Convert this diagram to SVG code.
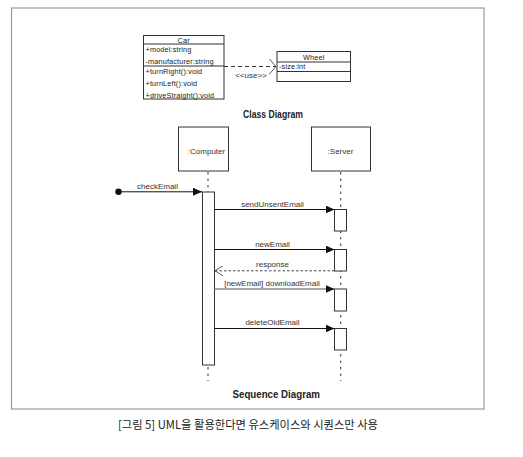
<svg xmlns="http://www.w3.org/2000/svg" width="523" height="457" viewBox="0 0 523 457">
<style>
.frame{fill:none;stroke:#9a9a9a;stroke-width:1.2}
.box{fill:#fff;stroke:#333;stroke-width:1}
.cls{font-family:"Liberation Sans",Arial,sans-serif;font-size:7.3px;letter-spacing:0.15px;fill:#222}
.lbl{font-family:"Liberation Sans",Arial,sans-serif;font-size:8px;fill:#333}
.title{font-family:"Liberation Sans",Arial,sans-serif;font-size:10px;font-weight:bold;fill:#222}
.msg{stroke:#111;stroke-width:1;fill:none}
.life{stroke:#555;stroke-width:1.2;stroke-dasharray:2.5 4;fill:none}
.act{fill:#fff;stroke:#333;stroke-width:1}
.cap{font-family:"Noto Sans CJK KR","Noto Sans",sans-serif;font-size:11.5px;fill:#222}
</style>
<defs>
<marker id="fill" markerWidth="10" markerHeight="8" refX="9" refY="4" orient="auto" markerUnits="userSpaceOnUse">
<path d="M0,0 L9,4 L0,8 Z" fill="#111"/>
</marker>
<marker id="open" markerWidth="10" markerHeight="10" refX="8" refY="5" orient="auto" markerUnits="userSpaceOnUse">
<path d="M0,0 L8,5 L0,10" fill="none" stroke="#333" stroke-width="0.8"/>
</marker>
<marker id="open2" markerWidth="10" markerHeight="16" refX="7" refY="8" orient="auto" markerUnits="userSpaceOnUse">
<path d="M0,0 L7,8 L0,16" fill="none" stroke="#333" stroke-width="0.8"/>
</marker>
</defs>
<rect class="frame" x="11.5" y="8" width="472.5" height="401" fill="#fff"/>

<g id="car">
<rect class="box" x="143.5" y="35.5" width="80.5" height="63.5"/>
<line class="box" x1="143.5" y1="44" x2="224" y2="44"/>
<line class="box" x1="143.5" y1="66" x2="224" y2="66"/>
<text class="cls" x="183.7" y="42.5" text-anchor="middle">Car</text>
<text class="cls" x="145.5" y="52">+model:string</text>
<text class="cls" x="145.5" y="63.5">-manufacturer:string</text>
<text class="cls" x="145.5" y="74">+turnRight():void</text>
<text class="cls" x="145.5" y="85.5">+turnLeft():void</text>
<text class="cls" x="145.5" y="97.5">+driveStraight():void</text>
</g>

<g id="wheel">
<rect class="box" x="277" y="51.5" width="73.5" height="30"/>
<line class="box" x1="277" y1="62" x2="350.5" y2="62"/>
<line class="box" x1="277" y1="71.5" x2="350.5" y2="71.5"/>
<text class="cls" x="313.7" y="59.5" text-anchor="middle">Wheel</text>
<text class="cls" x="279" y="69">-size:int</text>
</g>

<text class="title" x="243" y="117.5" textLength="60" lengthAdjust="spacingAndGlyphs">Class Diagram</text>

<g id="computer">
<rect class="box" x="178.5" y="127" width="50" height="44"/>
<text class="lbl" x="206.5" y="153.5" text-anchor="middle" font-size="8.5">:Computer</text>
</g>
<g id="server">
<rect class="box" x="311.5" y="127" width="59" height="44"/>
<text class="lbl" x="340.5" y="153.5" text-anchor="middle" font-size="8.5">:Server</text>
</g>

<g id="connectors">
<line x1="224" y1="66.5" x2="276" y2="66.5" stroke="#333" stroke-width="1" stroke-dasharray="4 3" marker-end="url(#open2)"/>
<text class="lbl" x="251" y="77.5" text-anchor="middle" font-size="6.5">&lt;&lt;use&gt;&gt;</text>

<line class="life" x1="208" y1="172" x2="208" y2="381"/>
<line class="life" x1="340.7" y1="172" x2="340.7" y2="381"/>

<rect class="act" x="202.5" y="192" width="12" height="173"/>
<rect class="act" x="334.5" y="209.5" width="12" height="21.5"/>
<rect class="act" x="334.5" y="249.5" width="12" height="21.5"/>
<rect class="act" x="334.5" y="289" width="12" height="22"/>
<rect class="act" x="334.5" y="328.5" width="12" height="21.5"/>

<circle cx="118.5" cy="191.8" r="3.2" fill="#111"/>
<line class="msg" x1="118.5" y1="191.8" x2="202" y2="191.8" marker-end="url(#fill)"/>
<text class="lbl" x="137" y="189">checkEmail</text>

<line class="msg" x1="214.5" y1="209.5" x2="334.5" y2="209.5" marker-end="url(#fill)"/>
<text class="lbl" x="272.5" y="206.5" text-anchor="middle">sendUnsentEmail</text>

<line class="msg" x1="214.5" y1="249.5" x2="334.5" y2="249.5" marker-end="url(#fill)"/>
<text class="lbl" x="272.5" y="246.5" text-anchor="middle">newEmail</text>

<line x1="334.5" y1="270.8" x2="215" y2="270.8" stroke="#333" stroke-width="0.9" stroke-dasharray="2.5 2" marker-end="url(#open)"/>
<text class="lbl" x="272.5" y="266.5" text-anchor="middle">response</text>

<line x1="214.5" y1="289" x2="334.5" y2="289" stroke="#888" stroke-width="1.3" marker-end="url(#fill)"/>
<text class="lbl" x="272" y="285.5" text-anchor="middle">[newEmail] downloadEmail</text>

<line class="msg" x1="214.5" y1="328.5" x2="334.5" y2="328.5" marker-end="url(#fill)"/>
<text class="lbl" x="272.5" y="325" text-anchor="middle">deleteOldEmail</text>
</g>

<text class="title" x="232.5" y="397.5" textLength="87.5" lengthAdjust="spacingAndGlyphs">Sequence Diagram</text>

<text class="cap" x="118" y="429" textLength="260" lengthAdjust="spacingAndGlyphs">[그림 5] UML을 활용한다면 유스케이스와 시퀀스만 사용</text>
</svg>
